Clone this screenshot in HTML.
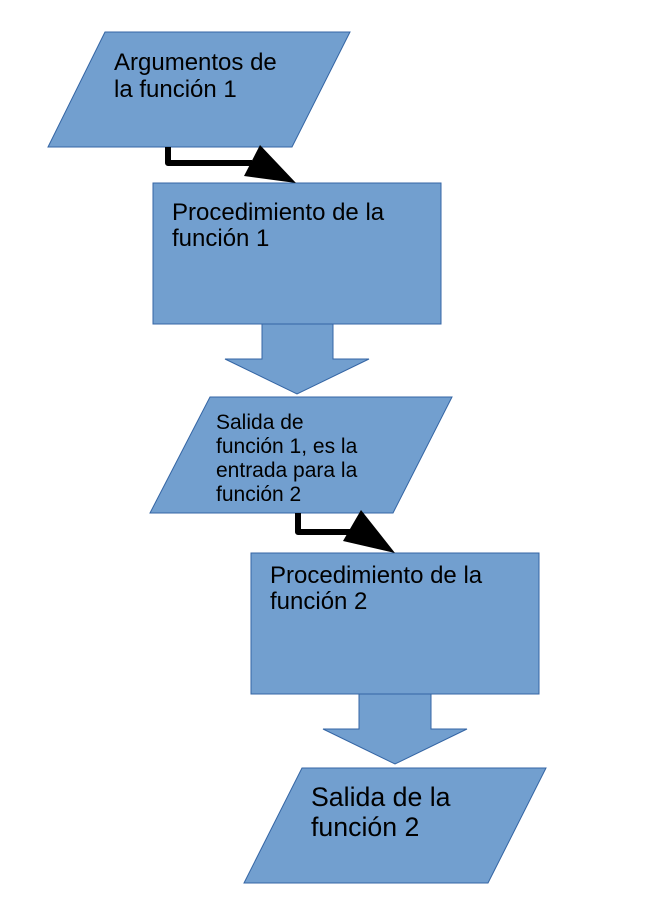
<!DOCTYPE html>
<html><head><meta charset="utf-8"><style>
html,body{margin:0;padding:0;background:#fff;}
svg{display:block;}
text{font-family:"Liberation Sans",sans-serif;fill:#000;}
</style></head><body>
<svg width="655" height="921" viewBox="0 0 655 921" xmlns="http://www.w3.org/2000/svg">
<g fill="#729fcf" stroke="#3465a4" stroke-width="1">
<polygon points="105,32 350,32 292,147 48,147"/>
<rect x="153" y="183" width="288" height="141"/>
<polygon points="262,324 333,324 333,359 369,359 297,394 225,359 262,359"/>
<polygon points="210,397 452,397 393,513 150,513"/>
<rect x="251" y="553" width="288" height="141"/>
<polygon points="359,694 431,694 431,729 467,729 395,764 323,729 359,729"/>
<polygon points="302,768 546,768 488,883 244,883"/>
</g>
<g fill="none" stroke="#000" stroke-width="6" stroke-linejoin="round">
<polyline points="168,147 168,163 252,163"/>
<polyline points="298,513 298,532 356,532"/>
</g>
<g fill="#000">
<polygon points="260,145 296,183 244,176"/>
<polygon points="361,510 395,553 343,541"/>
</g>
<g font-size="24">
<text x="114" y="70">Argumentos de</text>
<text x="114" y="97">la función 1</text>
<text x="172" y="220">Procedimiento de la</text>
<text x="172" y="246">función 1</text>
<text x="270" y="583">Procedimiento de la</text>
<text x="270" y="609">función 2</text>
</g>
<g font-size="21">
<text x="216" y="429">Salida de</text>
<text x="216" y="453">función 1, es la</text>
<text x="216" y="477">entrada para la</text>
<text x="216" y="501">función 2</text>
</g>
<g font-size="26.7">
<text x="311" y="806">Salida de la</text>
<text x="311" y="836">función 2</text>
</g>
</svg>
</body></html>
